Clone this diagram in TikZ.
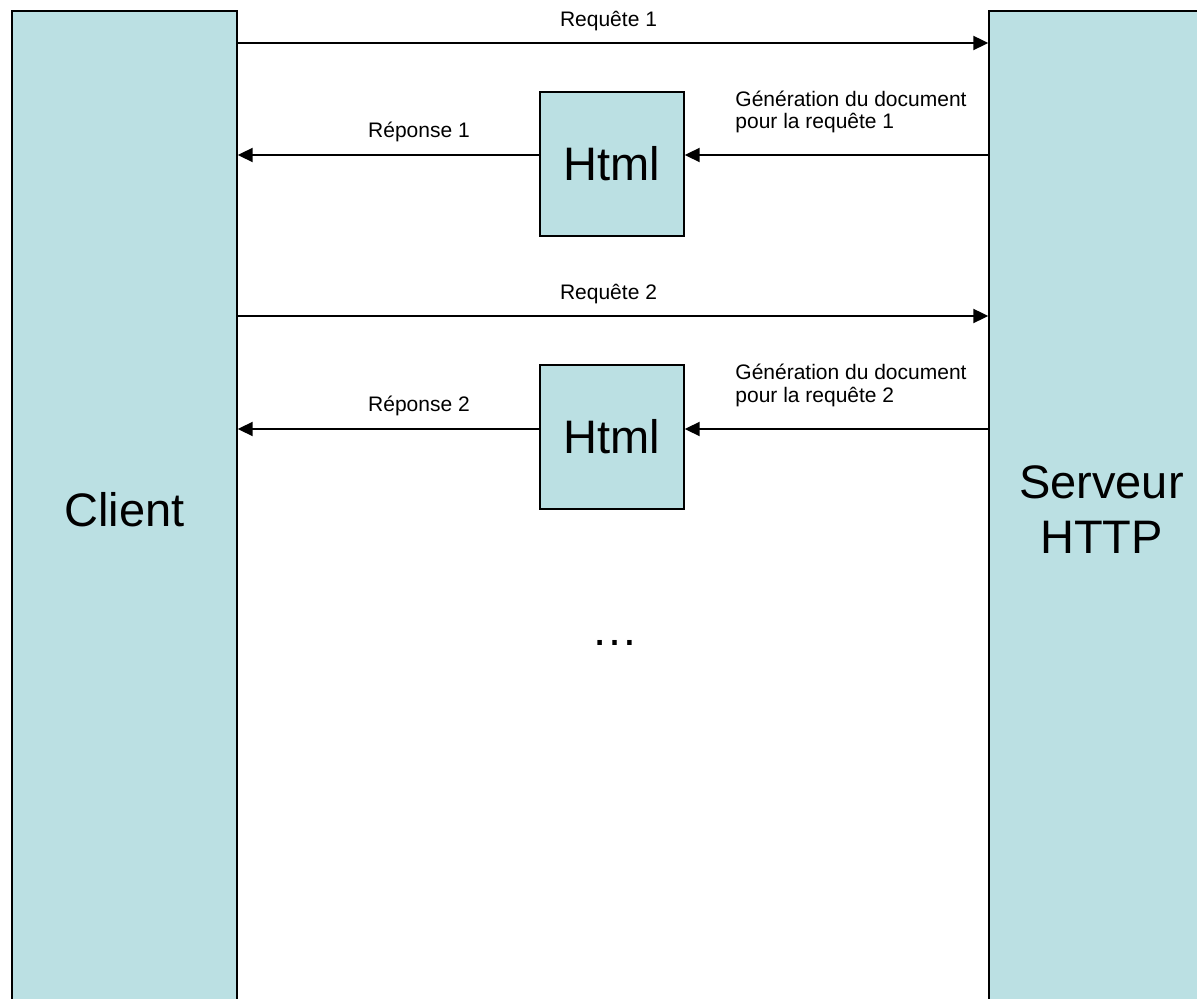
\documentclass[tikz,border=0pt]{standalone}
\usepackage{fontspec}
\setmainfont{Liberation Sans}
\usepackage{tikz}
\usetikzlibrary{calc}
\usetikzlibrary{arrows.meta}
\usetikzlibrary{positioning}
\definecolor{boxblue}{RGB}{187,224,227}
\tikzset{>={Triangle[length=7.5pt,width=7pt]}}
\tikzstyle{party} = [rectangle, draw=black, line width=0.7pt, fill=boxblue, minimum width=112.5pt, minimum height=499pt, inner sep=0, align=center, font=\fontsize{23.5}{27.5}\selectfont]
\tikzstyle{doc} = [rectangle, draw=black, line width=0.7pt, fill=boxblue, minimum width=72pt, minimum height=72pt, inner sep=0, font=\fontsize{23.5}{27.5}\selectfont]
\tikzstyle{msg} = [->, line width=1pt]
\tikzstyle{lbl} = [draw=none, inner sep=0, font=\fontsize{10.5}{11.2}\selectfont]

\begin{document}
\begin{tikzpicture}[x=0.5pt, y=-0.5pt]
\useasboundingbox (0,0) rectangle (1197,999);
\clip (0,0) rectangle (1197,999);
\node [party] (C) at (124.5, 510) {Client};
\node [party] (S) at (1101.5, 510) {Serveur\\HTTP};
\node [doc] (H1) at (612, 164) {Html};
\node [doc] (H2) at (612, 437) {Html};
% heights of the messages
\coordinate (q1) at (0, 43);
\coordinate (r1) at (0, 155);
\coordinate (q2) at (0, 316);
\coordinate (r2) at (0, 429);
% first request
\node [lbl, anchor=base] (tq1) at (608.5, 27) {Requête 1};
\node [lbl, anchor=base west, align=left] (tg1) at (735, 129) {Génération du document\\pour la requête 1};
\node [lbl, anchor=base] (tr1) at (419, 138) {Réponse 1};
\draw [msg] (q1 -| C.east) -- (q1 -| S.west);
\draw [msg] (r1 -| S.west) -- (r1 -| H1.east);
\draw [msg] (r1 -| H1.west) -- (r1 -| C.east);
% second request
\node [lbl, anchor=base] (tq2) at (608.5, 300) {Requête 2};
\node [lbl, anchor=base west, align=left] (tg2) at (735, 402) {Génération du document\\pour la requête 2};
\node [lbl, anchor=base] (tr2) at (419, 411) {Réponse 2};
\draw [msg] (q2 -| C.east) -- (q2 -| S.west);
\draw [msg] (r2 -| S.west) -- (r2 -| H2.east);
\draw [msg] (r2 -| H2.west) -- (r2 -| C.east);
\node [draw=none, inner sep=0, anchor=base, font=\fontsize{23.5}{27.5}\selectfont] (dots) at (615, 645) {…};
\end{tikzpicture}
\end{document}
